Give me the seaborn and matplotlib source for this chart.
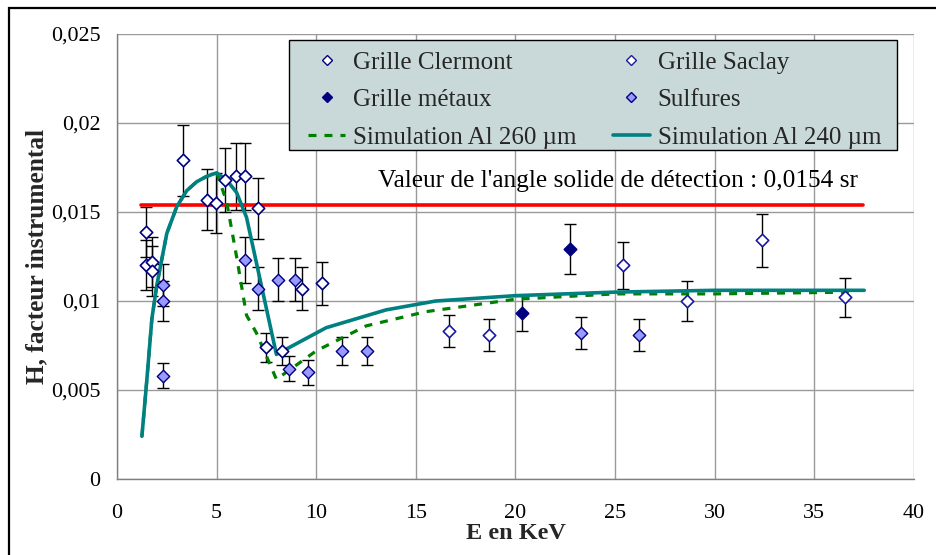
import numpy as np
import matplotlib
matplotlib.use("Agg")
import matplotlib.pyplot as plt
import seaborn as sns
from matplotlib.lines import Line2D
from matplotlib.patches import Rectangle

# --- Données ---
clermont_x = [1.46, 1.46, 1.74, 1.74, 3.31, 4.52, 4.95, 5.42, 5.96, 6.42, 7.08, 7.49, 8.27, 9.27, 10.3]
clermont_y = [0.0139, 0.0120, 0.0122, 0.0117, 0.0179, 0.0157, 0.0155, 0.0168, 0.0170, 0.0170,
              0.0152, 0.0074, 0.0072, 0.0107, 0.0110]
clermont_err = [0.0014, 0.0014, 0.0014, 0.0014, 0.0020, 0.0017, 0.0017, 0.0018, 0.0019, 0.0019,
                0.0017, 0.0008, 0.0008, 0.0012, 0.0012]

saclay_x = [16.68, 18.69, 25.4, 28.62, 32.35, 36.54]
saclay_y = [0.0083, 0.0081, 0.0120, 0.0100, 0.0134, 0.0102]
saclay_err = [0.0009, 0.0009, 0.0013, 0.0011, 0.0015, 0.0011]

metaux_x = [20.31, 22.72]
metaux_y = [0.0093, 0.0129]
metaux_err = [0.0010, 0.0014]

sulfures_x = [2.29, 2.29, 2.29, 6.42, 7.08, 8.08, 8.93, 8.65, 9.6, 11.28, 12.53, 23.27, 26.2]
sulfures_y = [0.0109, 0.0100, 0.0058, 0.0123, 0.0107, 0.0112, 0.0112, 0.0062, 0.0060, 0.0072,
              0.0072, 0.0082, 0.0081]
sulfures_err = [0.0012, 0.0011, 0.0007, 0.0013, 0.0012, 0.0012, 0.0012, 0.0007, 0.0007, 0.0008,
                0.0008, 0.0009, 0.0009]

sim240_x = [1.25, 1.5, 1.75, 2.0, 2.5, 3.0, 3.5, 4.0, 4.5, 5.0, 5.5, 6.0, 6.5, 8.0,
            10.5, 13.5, 16.0, 20.0, 25.0, 30.0, 37.5]
sim240_y = [0.0024, 0.0056, 0.0090, 0.0109, 0.0138, 0.0153, 0.0162, 0.0167, 0.0170, 0.0172,
            0.0168, 0.0161, 0.0147, 0.0070, 0.0085, 0.0095, 0.0100, 0.0103, 0.0105, 0.0106, 0.0106]

sim260_x = [1.25, 1.5, 1.75, 2.0, 2.5, 3.0, 3.5, 4.0, 4.5, 5.0, 5.5, 6.0, 6.5, 7.0, 8.0,
            10.0, 12.5, 15.5, 20.0, 25.0, 30.0, 37.0]
sim260_y = [0.0024, 0.0056, 0.0090, 0.0109, 0.0138, 0.0153, 0.0162, 0.0167, 0.0170, 0.0172,
            0.0156, 0.0125, 0.0092, 0.0082, 0.0056, 0.0072, 0.0086, 0.0094, 0.0101, 0.0104,
            0.0104, 0.0105]

angle_x = [1.2, 37.45]
angle_val = 0.0154

sns.set_theme(style="white")
plt.rcParams["font.family"] = ["Liberation Serif", "DejaVu Serif"]

fig = plt.figure(figsize=(9.37, 5.55), dpi=100)
ax = fig.add_axes([117 / 937, 1 - 479 / 555, 797 / 937, 445 / 555])

# barres d'erreur
for xs, ys, es in [(clermont_x, clermont_y, clermont_err), (saclay_x, saclay_y, saclay_err),
                   (metaux_x, metaux_y, metaux_err), (sulfures_x, sulfures_y, sulfures_err)]:
    ax.errorbar(xs, ys, yerr=es, fmt="none", ecolor="black", elinewidth=1.0,
                capsize=4, capthick=1.0, zorder=2)

# courbes
sns.lineplot(x=angle_x, y=[angle_val] * len(angle_x), ax=ax, color="#FF0000", lw=2.6,
             sort=False, estimator=None, zorder=3)
sns.lineplot(x=sim260_x, y=sim260_y, ax=ax, color="#008000", lw=2.3, sort=False,
             estimator=None, dashes=False, zorder=3).lines[-1].set_dashes((2.5, 2.5))
sns.lineplot(x=sim240_x, y=sim240_y, ax=ax, color="#008080", lw=2.6, sort=False,
             estimator=None, zorder=4)

# points
ms = 40
sns.scatterplot(x=clermont_x, y=clermont_y, ax=ax, marker="D", s=ms, facecolor="white",
                edgecolor="#000080", linewidth=1.2, zorder=5)
sns.scatterplot(x=saclay_x, y=saclay_y, ax=ax, marker="D", s=ms, facecolor="white",
                edgecolor="#1A1AA0", linewidth=1.2, zorder=5)
sns.scatterplot(x=metaux_x, y=metaux_y, ax=ax, marker="D", s=ms, facecolor="#000080",
                edgecolor="#000080", linewidth=1.2, zorder=5)
sns.scatterplot(x=sulfures_x, y=sulfures_y, ax=ax, marker="D", s=ms, facecolor="#9999FF",
                edgecolor="#000080", linewidth=1.0, zorder=5)

ax.text(13.1, 0.01674, "Valeur de l'angle solide de détection : 0,0154 sr",
        fontsize=18.3, va="center", ha="left", color="black")

# axes
ax.set_xlim(0, 40)
ax.set_ylim(0, 0.025)
ax.set_xticks(np.arange(0, 41, 5))
ax.set_yticks([0, 0.005, 0.01, 0.015, 0.02, 0.025])
ax.set_yticklabels(["0", "0,005", "0,01", "0,015", "0,02", "0,025"])
ax.grid(True, color="#9A9A9A", lw=1.0)
ax.set_axisbelow(True)
for s in ["top", "right"]:
    ax.spines[s].set_visible(False)
for s in ["left", "bottom"]:
    ax.spines[s].set_color("#808080")
    ax.spines[s].set_linewidth(1.0)
ax.tick_params(axis="both", direction="out", length=6, width=1, color="#606060",
               labelsize=15.8, labelcolor="black")
ax.tick_params(axis="x", pad=12)
ax.tick_params(axis="y", pad=6)
ax.set_xlabel("E en KeV", fontsize=17.5, fontweight="bold", labelpad=0)
ax.set_ylabel("H, facteur instrumental", fontsize=18.3, fontweight="bold", labelpad=2)

# légende : fond dessiné à part, entrées placées par-dessus
ax.add_patch(Rectangle((0.2158, 0.739), 0.7629, 0.2475, transform=ax.transAxes,
                       facecolor="#C9D9D9", edgecolor="black", lw=1.0, zorder=6))
h_cl = Line2D([], [], ls="none", marker="D", ms=5, mfc="white", mec="#000080", mew=1.0)
h_sa = Line2D([], [], ls="none", marker="D", ms=5, mfc="white", mec="#1A1AA0", mew=1.0)
h_me = Line2D([], [], ls="none", marker="D", ms=5, mfc="#000080", mec="#000080", mew=1.0)
h_su = Line2D([], [], ls="none", marker="D", ms=5, mfc="#9999FF", mec="#000080", mew=1.0)
h_260 = Line2D([], [], color="#008000", lw=2.3, dashes=(2.5, 2.5))
h_240 = Line2D([], [], color="#008080", lw=2.6)
leg = ax.legend([h_cl, h_me, h_260, h_sa, h_su, h_240],
                ["Grille Clermont", "Grille métaux", "Simulation Al 260 µm",
                 "Grille Saclay", "Sulfures", "Simulation Al 240 µm"],
                ncol=2, fontsize=18, loc="center left",
                bbox_to_anchor=(0.2396, 0.852), borderaxespad=0, borderpad=0,
                frameon=False, labelspacing=0.6, handlelength=1.5, handletextpad=0.3,
                columnspacing=1.45)
leg.set_zorder(7)

# cadre extérieur
fig.patches.append(Rectangle((9 / 937, -0.05), 1.2, 1 - 8 / 555 + 0.05, transform=fig.transFigure,
                             fill=False, edgecolor="black", lw=1.6))

fig.savefig("out.png", dpi=100)
